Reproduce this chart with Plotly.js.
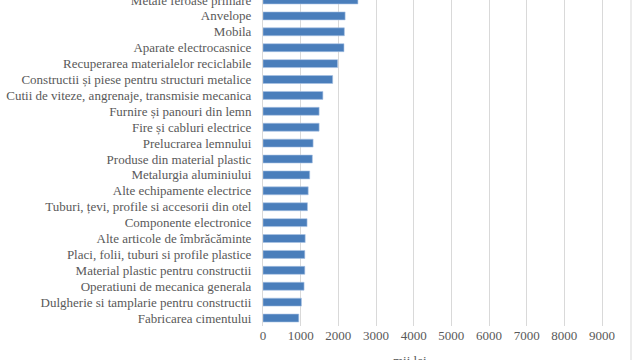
<!DOCTYPE html>
<html>
<head>
<meta charset="utf-8">
<script src="https://cdn.plot.ly/plotly-3.0.1.min.js"></script>
<style>html,body{margin:0;padding:0;background:#fff;}#chart{width:640px;height:360px;}</style>
</head>
<body>
<div id="chart"></div>
<script>
const categories = [
  "Metale feroase primare",
  "Anvelope",
  "Mobila",
  "Aparate electrocasnice",
  "Recuperarea materialelor reciclabile",
  "Constructii și piese pentru structuri metalice",
  "Cutii de viteze, angrenaje, transmisie mecanica",
  "Furnire și panouri din lemn",
  "Fire și cabluri electrice",
  "Prelucrarea lemnului",
  "Produse din material plastic",
  "Metalurgia aluminiului",
  "Alte echipamente electrice",
  "Tuburi, țevi, profile si accesorii din otel",
  "Componente electronice",
  "Alte articole de îmbrăcăminte",
  "Placi, folii, tuburi si profile plastice",
  "Material plastic pentru constructii",
  "Operatiuni de mecanica generala",
  "Dulgherie si tamplarie pentru constructii",
  "Fabricarea cimentului"
];
const values = [2520, 2180, 2160, 2150, 1980, 1850, 1590, 1490, 1490, 1330, 1310, 1240, 1200, 1180, 1170, 1120, 1110, 1110, 1090, 1020, 950];
const tickValues = [0, 1000, 2000, 3000, 4000, 5000, 6000, 7000, 8000, 9000];
const axisTitle = "mii lei";

const trace = {
  type: 'bar',
  orientation: 'h',
  x: values,
  y: categories,
  marker: {color: '#4a7ebb', line: {color: '#a9c2e4', width: 0.6}},
  width: 0.5,
  hoverinfo: 'x+y'
};

const layout = {
  width: 640, height: 360,
  margin: {l: 263, r: 9, t: 0, b: 34, pad: 0},
  paper_bgcolor: '#ffffff', plot_bgcolor: '#ffffff',
  showlegend: false,
  font: {family: '"Liberation Serif", "DejaVu Serif", serif', size: 13, color: '#595959'},
  xaxis: {
    range: [0, 9770],
    tickmode: 'array',
    tickvals: tickValues,
    ticktext: tickValues.map(String),
    showgrid: true, gridcolor: '#d9d9d9', gridwidth: 1,
    zeroline: false, showline: false, ticks: '',
    tickfont: {size: 13, color: '#595959'}
  },
  yaxis: {
    type: 'category',
    range: [20.5, 0],
    tickmode: 'array',
    tickvals: categories,
    ticktext: categories,
    showgrid: false, zeroline: false,
    showline: true, linecolor: '#d9d9d9', linewidth: 1,
    ticks: '', ticklabelstandoff: 8,
    tickfont: {size: 13, color: '#595959'}
  },
  annotations: [{
    text: axisTitle, xref: 'paper', yref: 'paper', x: 0.4, y: -0.078,
    xanchor: 'center', yanchor: 'top', showarrow: false,
    font: {size: 13, color: '#595959'}
  }],
  shapes: [{type: 'line', xref: 'paper', yref: 'paper', x0: 1, x1: 1, y0: -0.12, y1: 1, line: {color: '#d9d9d9', width: 1}}]
};

Plotly.newPlot('chart', [trace], layout, {displayModeBar: false, staticPlot: true});
</script>
</body>
</html>
